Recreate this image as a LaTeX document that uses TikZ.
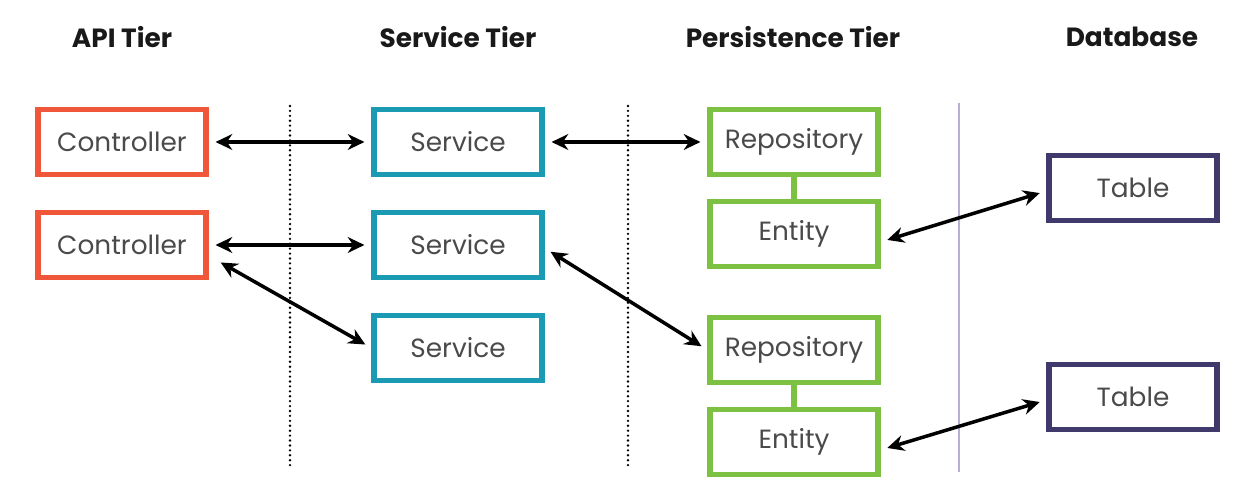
\documentclass[tikz,border=0pt]{standalone}
\usepackage{fontspec}
\setmainfont{Poppins}
\usetikzlibrary{arrows.meta}
\definecolor{apired}{HTML}{F0573A}
\definecolor{srvteal}{HTML}{1B9AB4}
\definecolor{pergreen}{HTML}{7DC143}
\definecolor{dbpurple}{HTML}{403A6C}
\definecolor{sepline}{HTML}{BBAED6}
\definecolor{textgray}{HTML}{4A4A4A}

\begin{document}
\begin{tikzpicture}[x=0.02cm,y=-0.02cm,
  box/.style={draw,line width=2.9pt,minimum width=3.36cm,minimum height=1.30cm,
    text=textgray,font=\fontsize{15}{18}\selectfont},
  tier/.style={font=\bfseries\fontsize{15}{20}\selectfont,text=black!90},
  link/.style={{Stealth[length=9.5pt,width=9pt]}-{Stealth[length=9.5pt,width=9pt]},
    line width=2pt,shorten <=4pt,shorten >=4pt},
  tierdots/.style={line width=1.5pt,line cap=round,dash pattern=on 0pt off 2.8pt}]
\useasboundingbox (0,0) rectangle (1251,500);
%tiers
\node[tier] (hapi) at (122,37) {API Tier};
\node[tier] (hsrv) at (458,37) {Service Tier};
\node[tier] (hper) at (793,37) {Persistence Tier};
\node[tier] (hdb) at (1132,37) {Database};
%separators
\draw[tierdots] (290,106) -- (290,470);
\draw[tierdots] (628,106) -- (628,470);
\draw[sepline,line width=0.9pt] (959,103) -- (959,472);
%api tier
\node[box,draw=apired] (c1) at (122,142) {Controller};
\node[box,draw=apired] (c2) at (122,245) {Controller};
%service tier
\node[box,draw=srvteal] (s1) at (458,142) {Service};
\node[box,draw=srvteal] (s2) at (458,245) {Service};
\node[box,draw=srvteal] (s3) at (458,348) {Service};
%persistence tier
\node[box,draw=pergreen] (r1) at (794,142) {Repository};
\node[box,draw=pergreen] (e1) at (794,234) {Entity};
\node[box,draw=pergreen] (r2) at (794,350) {Repository};
\node[box,draw=pergreen] (e2) at (794,442) {Entity};
\draw[pergreen,line width=2.9pt] (r1.south) -- (e1.north);
\draw[pergreen,line width=2.9pt] (r2.south) -- (e2.north);
%database
\node[box,draw=dbpurple] (t1) at (1133,188) {Table};
\node[box,draw=dbpurple] (t2) at (1133,397) {Table};
%links
\draw[link] (c1.east) -- (s1.west);
\draw[link] (s1.east) -- (r1.west);
\draw[link] (c2.east) -- (s2.west);
\draw[link] ([xshift=0.12cm,yshift=-0.28cm]c2.east) -- (s3.west);
\draw[link] ([yshift=-0.06cm]s2.east) -- (r2.west);
\draw[link] ([yshift=-0.16cm]e1.east) -- ([yshift=-0.06cm]t1.west);
\draw[link] ([yshift=-0.16cm]e2.east) -- ([yshift=-0.06cm]t2.west);
\end{tikzpicture}
\end{document}
